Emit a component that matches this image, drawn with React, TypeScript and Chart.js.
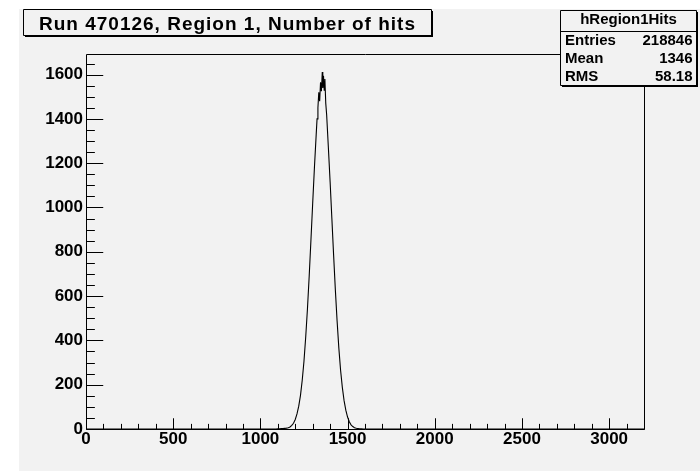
import React, { useEffect, useRef } from "react";
import { Chart, registerables } from "chart.js";

Chart.register(...registerables);

// ---------- data ----------
const TITLE = "Run 470126, Region 1, Number of hits";
const STATS_NAME = "hRegion1Hits";
const STAT_LABELS = ["Entries", "Mean", "RMS"];
const STAT_VALUES = ["218846", "1346", "58.18"];

const X_MIN = 0;
const X_MAX = 3200;
const Y_MIN = 0;
const Y_MAX = 1693;
const X_TICKS = [0, 500, 1000, 1500, 2000, 2500, 3000];
const Y_TICKS = [0, 200, 400, 600, 800, 1000, 1200, 1400, 1600];
const X_MAJOR = 500;
const X_MINOR = 100;
const Y_MAJOR = 200;
const Y_MINOR = 50;

// number of hits (bin position) and counts
const binX = [
  0, 1090, 1100, 1110, 1120, 1130, 1140, 1150, 1160, 1170, 1180, 1190, 1200,
  1210, 1220, 1230, 1240, 1250, 1260, 1270, 1280, 1290, 1300, 1310, 1320,
  1325, 1330, 1335, 1340, 1345, 1350, 1355, 1358, 1362, 1366, 1370, 1375,
  1380, 1390, 1400, 1410, 1420, 1430, 1440, 1450, 1460, 1470, 1480, 1490,
  1500, 1510, 1520, 1530, 1540, 1550, 1560, 1570, 1580, 1590, 3200,
];
const counts = [
  0, 0, 1, 1, 2, 2, 3, 4, 6, 9, 16, 26, 43,
  68, 103, 152, 220, 306, 415, 543, 691, 853, 1019, 1181, 1328,
  1400, 1450, 1520, 1480, 1565, 1525, 1612, 1540, 1595, 1530, 1580, 1470,
  1420, 1270, 1115, 950, 785, 628, 488, 365, 265, 188, 128, 85,
  54, 33, 19, 11, 6, 3, 2, 1, 1, 0, 0,
];

// ---------- style ----------
const W = 700;
const H = 471;
const BG = "#f2f2f2";
const FONT = "'Liberation Sans', Arial, Helvetica, sans-serif";

const rootStyle = {
  id: "rootStyle",
  beforeDraw(chart: any) {
    const ctx = chart.ctx as CanvasRenderingContext2D;
    ctx.save();
    ctx.fillStyle = "#ffffff";
    ctx.fillRect(0, 0, W, H);
    ctx.fillStyle = BG;
    ctx.fillRect(19, 9, W - 19, H - 9);
    ctx.restore();
  },
  afterDraw(chart: any) {
    const ctx = chart.ctx as CanvasRenderingContext2D;
    const { left, right, top, bottom } = chart.chartArea;
    const xs = chart.scales.x;
    const ys = chart.scales.y;
    const L = Math.round(left) + 0.5;
    const R = Math.round(right) + 0.5;
    const T = Math.round(top) + 0.5;
    const B = Math.round(bottom) + 0.5;
    ctx.save();
    ctx.strokeStyle = "#000";
    ctx.lineWidth = 1;
    // frame
    ctx.beginPath();
    ctx.rect(L, T, R - L, B - T);
    ctx.stroke();
    // ticks
    ctx.beginPath();
    const yLenMajor = 0.03 * (right - left);
    const xLenMajor = 0.03 * (bottom - top);
    for (let v = Y_MIN; v <= Y_MAX; v += Y_MINOR) {
      const py = Math.round(ys.getPixelForValue(v)) + 0.5;
      const len = v % Y_MAJOR === 0 ? yLenMajor : yLenMajor / 2;
      ctx.moveTo(L, py);
      ctx.lineTo(L + len, py);
    }
    for (let v = X_MIN; v <= X_MAX; v += X_MINOR) {
      const px = Math.round(xs.getPixelForValue(v)) + 0.5;
      const len = v % X_MAJOR === 0 ? xLenMajor : xLenMajor / 2;
      ctx.moveTo(px, B);
      ctx.lineTo(px, B - len);
    }
    ctx.stroke();

    const drawBox = (x1: number, y1: number, x2: number, y2: number) => {
      ctx.fillStyle = "#000";
      ctx.fillRect(x1 + 2, y1 + 2, x2 - x1, y2 - y1);
      ctx.fillStyle = BG;
      ctx.fillRect(x1, y1, x2 - x1, y2 - y1);
      ctx.beginPath();
      ctx.rect(x1 + 0.5, y1 + 0.5, x2 - x1, y2 - y1);
      ctx.stroke();
    };
    // title box
    drawBox(23, 9, 431, 35);
    ctx.fillStyle = "#000";
    ctx.font = `bold 19px ${FONT}`;
    (ctx as any).letterSpacing = "1px";
    ctx.textAlign = "center";
    ctx.textBaseline = "alphabetic";
    ctx.fillText(TITLE, 227.5, 29.5);
    (ctx as any).letterSpacing = "0px";

    // stats box
    drawBox(560, 10, 696, 85);
    ctx.beginPath();
    ctx.moveTo(560.5, 31.5);
    ctx.lineTo(696.5, 31.5);
    ctx.stroke();
    ctx.fillStyle = "#000";
    ctx.font = `bold 15px ${FONT}`;
    ctx.textAlign = "center";
    ctx.fillText(STATS_NAME, 628.5, 24);
    const rowY = [44.5, 62.8, 81];
    STAT_LABELS.forEach((lab, i) => {
      ctx.textAlign = "left";
      ctx.fillText(lab, 565, rowY[i]);
      ctx.textAlign = "right";
      ctx.fillText(STAT_VALUES[i], 692.5, rowY[i]);
    });
    ctx.restore();
  },
};

export default function App() {
  const ref = useRef<HTMLCanvasElement | null>(null);

  useEffect(() => {
    const canvas = ref.current;
    if (!canvas) return;
    const points = binX.map((x, i) => ({ x, y: counts[i] }));
    const chart = new Chart(canvas, {
      type: "line",
      data: {
        datasets: [
          {
            label: STATS_NAME,
            data: points,
            borderColor: "#000",
            borderWidth: 1.1,
            pointRadius: 0,
            tension: 0,
            fill: false,
          },
        ],
      },
      options: {
        responsive: false,
        maintainAspectRatio: false,
        devicePixelRatio: 1,
        animation: false,
        events: [],
        layout: { padding: { left: 0, top: 54, right: 56, bottom: 0 } },
        plugins: {
          legend: { display: false },
          title: { display: false },
          tooltip: { enabled: false },
        },
        scales: {
          x: {
            type: "linear",
            min: X_MIN,
            max: X_MAX,
            grid: { display: false, drawTicks: false },
            border: { display: false },
            ticks: {
              autoSkip: false,
              maxRotation: 0,
              padding: 0,
              color: "#000",
              font: { family: FONT, size: 17, weight: "bold" },
              callback: (v: any) => String(v),
            },
            afterBuildTicks: (s: any) => {
              s.ticks = X_TICKS.map((v) => ({ value: v }));
            },
            afterFit: (s: any) => {
              s.height = 42;
            },
          },
          y: {
            type: "linear",
            min: Y_MIN,
            max: Y_MAX,
            grid: { display: false, drawTicks: false },
            border: { display: false },
            ticks: {
              autoSkip: false,
              padding: 3,
              color: "#000",
              font: { family: FONT, size: 17, weight: "bold" },
              callback: (v: any) => String(v),
            },
            afterBuildTicks: (s: any) => {
              s.ticks = Y_TICKS.map((v) => ({ value: v }));
            },
            afterFit: (s: any) => {
              s.width = 86;
            },
          },
        },
      },
      plugins: [rootStyle],
    });
    return () => chart.destroy();
  }, []);

  return (
    <div style={{ position: "fixed", left: 0, top: 0, width: W, height: H }}>
      <canvas ref={ref} width={W} height={H} style={{ width: W, height: H, display: "block" }} />
    </div>
  );
}
